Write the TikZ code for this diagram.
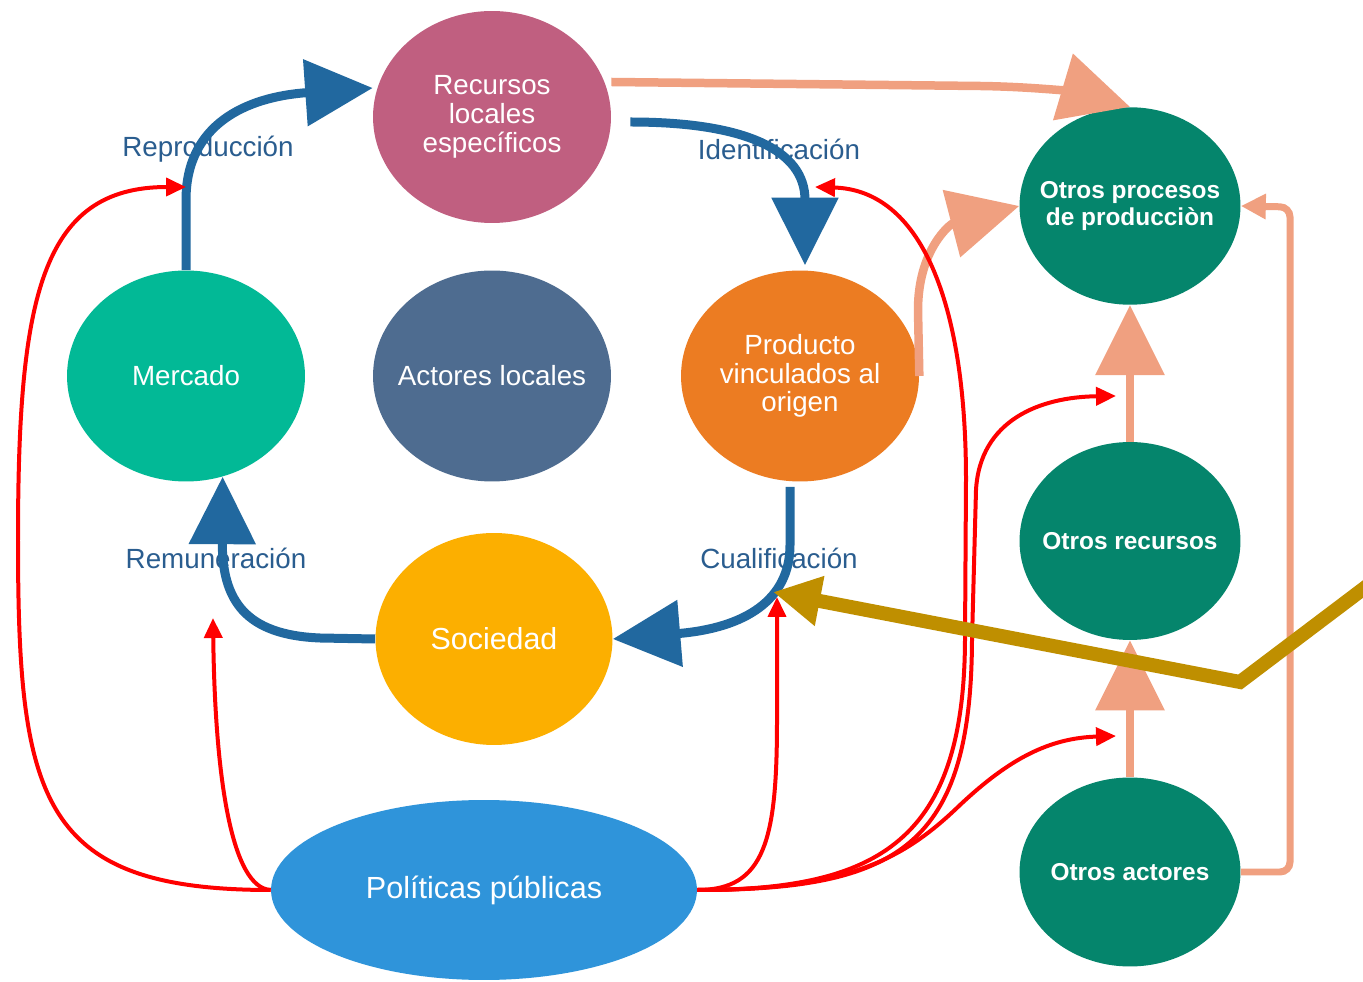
\documentclass[tikz,border=0pt]{standalone}
\usepackage{fontspec}
\setmainfont{Liberation Sans}
\usetikzlibrary{shapes.geometric,arrows.meta,calc}
\definecolor{cRec}{HTML}{C05F80}
\definecolor{cMerc}{HTML}{02B996}
\definecolor{cAct}{HTML}{4E6C90}
\definecolor{cProd}{HTML}{EC7C22}
\definecolor{cSoc}{HTML}{FCAF00}
\definecolor{cPol}{HTML}{2F94DA}
\definecolor{cOtros}{HTML}{05856C}
\definecolor{cBlue}{HTML}{21689F}
\definecolor{cSal}{HTML}{F0A080}
\definecolor{cRed}{HTML}{FF0000}
\definecolor{cGold}{HTML}{BF8F00}
\definecolor{cLbl}{HTML}{2A5D8F}
\begin{document}
\begin{tikzpicture}[x=0.02cm,y=-0.02cm,
  bub/.style={ellipse, draw=none, inner xsep=-2cm, inner ysep=0pt, text=white, align=center,
    minimum width=4.76cm, minimum height=4.22cm,
    font=\fontsize{15.8}{16.4}\selectfont},
  gbub/.style={bub, fill=cOtros, minimum width=4.42cm, minimum height=3.95cm,
    font=\bfseries\fontsize{13.9}{15.4}\selectfont},
  lbl/.style={text=cLbl, inner sep=0pt, font=\fontsize{15.8}{18}\selectfont},
  bluearr/.style={draw=cBlue, line width=0.18cm, -{Triangle[length=1.35cm,width=1.3cm]}},
  salarr/.style={draw=cSal, line width=0.17cm, -{Triangle[length=1.4cm,width=1.35cm]}},
  salthin/.style={draw=cSal, line width=0.14cm, rounded corners=0.2cm, -{Triangle[length=0.5cm,width=0.48cm]}},
  redarr/.style={draw=cRed, line width=0.08cm, -{Triangle[length=0.4cm,width=0.36cm]}},
  goldarr/.style={draw=cGold, line width=0.28cm, line join=miter, -{Triangle[length=0.95cm,width=0.95cm]}}
]
\useasboundingbox (0,0) rectangle (1363,982);
\fill[white] (0,0) rectangle (1363,982);
\clip (0,0) rectangle (1363,982);

% nodes
\node[bub, fill=cRec, minimum height=4.24cm] (rec) at (492,117) {Recursos\\locales\\específicos};
\node[bub, fill=cMerc] (merc) at (186,376) {Mercado};
\node[bub, fill=cAct] (act) at (492,376) {Actores locales};
\node[bub, fill=cProd] (prod) at (800,376) {Producto\\vinculados al\\origen};
\node[bub, fill=cSoc, minimum width=4.74cm, minimum height=4.24cm,
      font=\fontsize{17.3}{18}\selectfont] (soc) at (494,639) {Sociedad};
\node[bub, fill=cPol, minimum width=8.52cm, minimum height=3.6cm,
      font=\fontsize{17.4}{18}\selectfont] (pol) at (484,890) {Políticas públicas};
\node[gbub] (op) at (1130,206) {Otros procesos\\de producciòn};
\node[gbub, minimum height=3.96cm] (orc) at (1130,541) {Otros recursos};
\node[gbub, minimum height=3.78cm] (oac) at (1130,872) {Otros actores};

% labels
\node[lbl] (lrep) at (208,149) {Reproducción};
\node[lbl] (lide) at (779,149) {Identificación};
\node[lbl] (lrem) at (216,558) {Remuneración};
\node[lbl] (lcua) at (779,558) {Cualificación};

% target coordinates on connectors
\coordinate (tRepro) at (186,187);
\coordinate (tRemun) at (213,618);
\coordinate (tCual) at (777,597);
\coordinate (tIdent) at (815,187);
\coordinate (tOrc) at (1116,396);
\coordinate (tOac) at (1116,736);
\coordinate (tGold) at (773,592);
\coordinate (gStart) at (1375,580);

% blue cycle
\draw[bluearr] (merc.north) -- (186,200) .. controls (186,125) and (245,97) .. ($(rec.west)+(0,-29)$);
\draw[bluearr] ($(rec.east)+(19,5)$) .. controls (745,122) and (805,150) .. ($(prod.north)+(5,-5)$);
\draw[bluearr] ($(prod.south)+(-10,5)$) -- (790,545) .. controls (790,600) and (745,628) .. (soc.east);
\draw[bluearr] (soc.west) -- (320,638) .. controls (245,635) and (222,600) .. (merc.-70.4);

% salmon arrows
\draw[salarr] ($(rec.east)+(0,-35)$) -- (980,86) .. controls (1050,87) and (1090,95) .. (op.north);
\draw[salarr] (prod.east) -- (918,310) .. controls (918,250) and (950,224) .. (op.west);
\draw[salarr] (orc.north) -- (op.south);
\draw[salarr] (oac.north) -- (orc.south);
\draw[salthin] (oac.east) -- (1290,872) -- (1290,207) -- (op.east);

% red arrows
\draw[redarr] (pol.west) .. controls (40,890) and (18,800) .. (18,540)
   .. controls (18,300) and (40,187) .. (tRepro);
\draw[redarr] (pol.west) .. controls (232,888) and (215,780) .. (tRemun);
\draw[redarr] (pol.east) .. controls (765,890) and (777,840) .. (777,720) -- (tCual);
\draw[redarr] (pol.east) .. controls (880,890) and (964,840) .. (965,640) -- (966,480)
   .. controls (966,300) and (920,190) .. (tIdent);
\draw[redarr] (pol.east) .. controls (900,890) and (971,845) .. (972,640) -- (976,490)
   .. controls (980,420) and (1040,397) .. (tOrc);
\draw[redarr] (pol.east) .. controls (850,890) and (905,858) .. (960,805)
   .. controls (1010,758) and (1050,738) .. (tOac);

% gold arrow
\draw[goldarr] (gStart) -- (1240,682) -- (tGold);
\end{tikzpicture}
\end{document}
